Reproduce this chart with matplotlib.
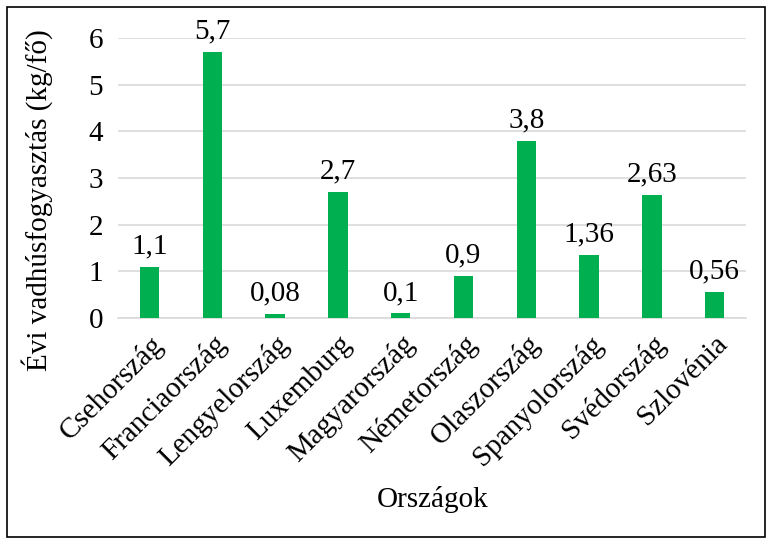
import matplotlib
matplotlib.use("Agg")
import matplotlib.pyplot as plt
from matplotlib.patches import Rectangle

countries = ["Csehország", "Franciaország", "Lengyelország", "Luxemburg", "Magyarország",
             "Németország", "Olaszország", "Spanyolország", "Svédország", "Szlovénia"]
values = [1.1, 5.7, 0.08, 2.7, 0.1, 0.9, 3.8, 1.36, 2.63, 0.56]
labels = ["1,1", "5,7", "0,08", "2,7", "0,1", "0,9", "3,8", "1,36", "2,63", "0,56"]
yticks = [0, 1, 2, 3, 4, 5, 6]

plt.rcParams['font.family'] = ['Liberation Serif', 'DejaVu Serif']
FS = 21

fig = plt.figure(figsize=(7.73, 5.44), dpi=100)
ax = fig.add_axes([0.153, 0.4154, 0.812, 0.5146])
x = list(range(len(countries)))
bars = ax.bar(x, values, width=0.31, color="#00B050", zorder=3)
for xi, v, lab in zip(x, values, labels):
    ax.text(xi, v + 0.16, lab, ha="center", va="bottom", fontsize=FS, color="black")

ax.set_xlim(-0.5, len(countries) - 0.5)
ax.set_ylim(0, 6)
ax.set_yticks(yticks)
ax.set_yticklabels([str(t) for t in yticks], fontsize=FS)
ax.set_xticks(x)
ax.set_xticklabels(countries, rotation=45, ha="right", rotation_mode="anchor", fontsize=FS)
ax.tick_params(axis="y", length=0, pad=11)
ax.tick_params(axis="x", length=0, pad=9)
ax.grid(axis="y", color="#D9D9D9", linewidth=1.2, zorder=0)
for s in ["top", "right", "left"]:
    ax.spines[s].set_visible(False)
ax.spines["bottom"].set_color("#D9D9D9")
ax.spines["bottom"].set_linewidth(1.2)
ax.set_ylabel("Évi vadhúsfogyasztás (kg/fő)", fontsize=21, va="center")
ax.yaxis.set_label_coords(-0.13, 0.42)
ax.set_xlabel("Országok", fontsize=FS, va="center")
ax.xaxis.set_label_coords(0.5, -0.65)

fig.patches.append(Rectangle((0.009, 0.013), 0.981, 0.974, transform=fig.transFigure,
                             fill=False, edgecolor="black", linewidth=1.2))
fig.savefig("out.png", dpi=100)
